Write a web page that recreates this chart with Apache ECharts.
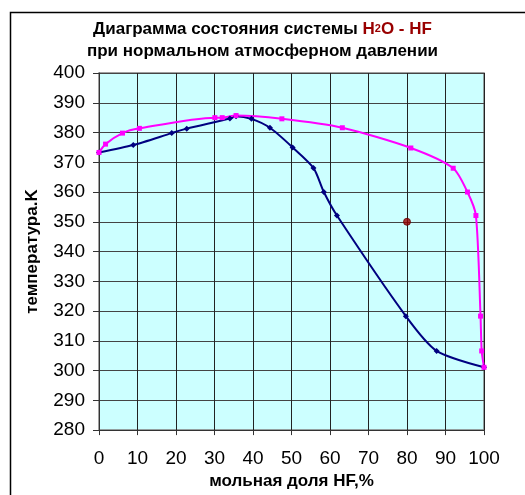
<!DOCTYPE html>
<html>
<head>
<meta charset="utf-8">
<script src="https://cdn.jsdelivr.net/npm/echarts@6/dist/echarts.min.js"></script>
<style>
html,body{margin:0;padding:0;background:#fff;}
#c{width:525px;height:495px;}
</style>
</head>
<body>
<div id="c"></div>
<script>
// Liquidus / boiling curve (blue) of H2O - HF
var blueX = [0, 8.9, 18.9, 22.8, 34.0, 35.6, 39.6, 44.4, 50.3, 55.7, 58.4, 61.8, 79.7, 87.7, 100];
var blueY = [373.3, 375.8, 379.8, 381.3, 384.7, 385.5, 384.6, 381.6, 375.0, 368.1, 360.0, 352.1, 318.3, 306.6, 301.1];
// Vapour curve (magenta)
var pinkX = [0, 1.7, 6.1, 10.5, 30.1, 32.0, 35.6, 47.5, 63.2, 81.0, 92.0, 95.7, 97.9, 99.1, 99.4, 100];
var pinkY = [373.3, 376.1, 379.8, 381.4, 385.0, 385.0, 385.7, 384.6, 381.6, 374.8, 368.0, 360.0, 352.1, 318.3, 306.6, 301.1];
// Single marked point
var pointX = [80];
var pointY = [350];

var xTicks = {min: 0, max: 100, interval: 10};
var yTicks = {min: 280, max: 400, interval: 10};

function zip(a, b) { return a.map(function (v, i) { return [v, b[i]]; }); }

var chart = echarts.init(document.getElementById('c'));
var font = '"Liberation Sans", Arial, sans-serif';
chart.setOption({
  animation: false,
  backgroundColor: '#ffffff',
  title: {
    left: 'center',
    top: 13,
    text: '{a|Диаграмма состояния системы }{r|H}{s|2}{r|O - HF}\n{a|при нормальном атмосферном давлении}',
    textStyle: {
      fontFamily: font,
      rich: {
        a: {fontFamily: font, fontSize: 17, fontWeight: 'bold', color: '#000', lineHeight: 22},
        r: {fontFamily: font, fontSize: 17, fontWeight: 'bold', color: '#990000', lineHeight: 22},
        s: {fontFamily: font, fontSize: 11, fontWeight: 'bold', color: '#990000', lineHeight: 22}
      }
    }
  },
  graphic: [{
    type: 'rect', left: 8, top: 10, z: -1,
    shape: {width: 600, height: 600},
    style: {fill: 'none', stroke: '#000', lineWidth: 1.5}
  }],
  grid: {left: 99, right: 41, top: 73, bottom: 61, show: true, backgroundColor: '#ccffff', borderColor: '#808080', borderWidth: 1.5},
  xAxis: {
    type: 'value', min: xTicks.min, max: xTicks.max, interval: xTicks.interval,
    name: 'мольная доля HF,%', nameLocation: 'middle', nameGap: 39,
    nameTextStyle: {fontFamily: font, fontSize: 17, fontWeight: 'bold', color: '#000'},
    axisLine: {show: true, lineStyle: {color: '#333', width: 1}},
    axisTick: {show: true, length: 5, lineStyle: {color: '#333'}},
    axisLabel: {fontFamily: font, fontSize: 19, color: '#000', margin: 19},
    splitLine: {show: true, lineStyle: {color: '#222', width: 1}}
  },
  yAxis: {
    type: 'value', min: yTicks.min, max: yTicks.max, interval: yTicks.interval,
    name: 'температура.K', nameLocation: 'middle', nameGap: 58, nameRotate: 90,
    nameTextStyle: {fontFamily: font, fontSize: 17, fontWeight: 'bold', color: '#000'},
    axisLine: {show: true, lineStyle: {color: '#333', width: 1}},
    axisTick: {show: true, length: 6, lineStyle: {color: '#333'}},
    axisLabel: {fontFamily: font, fontSize: 19, color: '#000', margin: 14},
    splitLine: {show: true, lineStyle: {color: '#444', width: 1}}
  },
  series: [
    {
      type: 'line', data: zip(blueX, blueY), smooth: 0.25,
      symbol: 'diamond', symbolSize: 6,
      lineStyle: {color: '#000080', width: 2},
      itemStyle: {color: '#000080'}
    },
    {
      type: 'line', data: zip(pinkX, pinkY), smooth: 0.25,
      symbol: 'rect', symbolSize: 5,
      lineStyle: {color: '#ff00ff', width: 2},
      itemStyle: {color: '#ff00ff'}
    },
    {
      type: 'scatter', data: zip(pointX, pointY),
      symbol: 'circle', symbolSize: 7,
      itemStyle: {color: '#990000', borderColor: '#660000', borderWidth: 1}
    }
  ]
});
</script>
</body>
</html>
